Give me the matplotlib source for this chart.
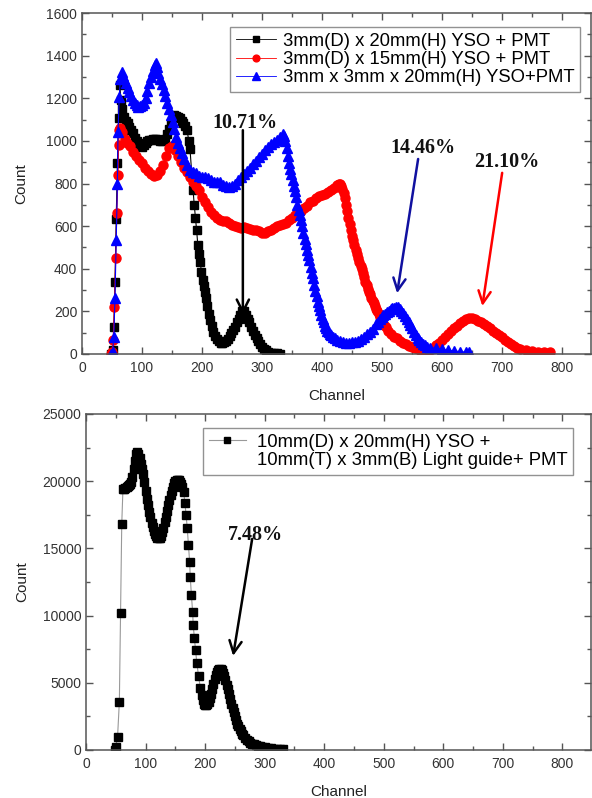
import numpy as np
import matplotlib.pyplot as plt
from matplotlib.lines import Line2D
from matplotlib.ticker import MultipleLocator

# Datos del panel superior (canal, cuentas)
ch_black = [48, 51, 53, 55, 57, 59, 61, 63, 65, 67, 70, 73, 76, 79, 82, 85, 88, 91, 94, 97, 100, 103,
            106, 109, 112, 115, 118, 121, 124, 127, 130, 133, 136, 139, 142, 145, 148, 151, 154, 157,
            160, 163, 166, 169, 172, 175, 178, 180, 183, 185, 187, 189, 191, 193, 195, 197, 199, 201,
            203, 205, 207, 209, 211, 213, 216, 219, 222, 225, 228, 231, 234, 237, 240, 243, 246, 249,
            252, 255, 258, 261, 264, 267, 270, 273, 276, 279, 282, 285, 288, 291, 294, 297, 300, 303,
            306, 310, 315, 320, 325, 330]
cnt_black = [0, 20, 125, 340, 635, 895, 1105, 1260, 1190, 1150, 1110, 1095, 1085, 1065, 1050, 1035,
             1015, 1000, 985, 975, 970, 980, 990, 1000, 1005, 1005, 1010, 1010, 1010, 1005, 1000, 1000,
             1005, 1010, 1030, 1055, 1085, 1110, 1120, 1115, 1110, 1105, 1095, 1085, 1070, 1050, 1000,
             960, 840, 770, 700, 640, 580, 510, 470, 430, 385, 345, 320, 290, 265, 225, 190, 160, 130,
             105, 85, 70, 60, 53, 52, 55, 60, 70, 85, 98, 113, 128, 148, 165, 185, 200, 200, 185, 165,
             148, 128, 108, 90, 75, 60, 45, 35, 25, 17, 10, 6, 4, 3, 2]

ch_red = [48, 50, 52, 54, 56, 58, 60, 61, 62, 64, 67, 71, 75, 80, 85, 90, 95, 100, 105, 110, 115, 120,
          125, 130, 135, 140, 145, 150, 155, 160, 165, 170, 175, 180, 185, 190, 195, 200, 205, 210, 215,
          220, 225, 230, 235, 240, 245, 250, 255, 260, 265, 270, 275, 280, 285, 290, 295, 300, 305, 310,
          315, 320, 325, 330, 335, 340, 345, 350, 355, 360, 365, 370, 375, 380, 385, 390, 395, 400, 405,
          410, 415, 420, 425, 428, 430, 432, 434, 436, 438, 440, 442, 444, 446, 448, 450, 452, 454, 456,
          458, 460, 462, 464, 466, 468, 470, 472, 474, 476, 478, 480, 482, 484, 486, 488, 490, 492, 494,
          496, 498, 500, 503, 506, 510, 515, 520, 525, 530, 535, 540, 545, 550, 555, 560, 565, 570, 575,
          580, 585, 590, 595, 600, 605, 610, 615, 620, 625, 630, 635, 640, 645, 650, 655, 660, 665, 670,
          675, 680, 685, 690, 695, 700, 705, 710, 715, 720, 725, 730, 740, 750, 760, 770, 780]
cnt_red = [0, 10, 66, 220, 450, 660, 840, 980, 1050, 1060, 1040, 1010, 990, 975, 950, 930, 910, 895,
           875, 860, 845, 835, 840, 860, 885, 930, 965, 975, 955, 930, 900, 875, 855, 830, 805, 790, 770,
           735, 715, 690, 665, 650, 640, 630, 625, 625, 615, 605, 600, 595, 590, 595, 590, 585, 580, 580,
           575, 570, 570, 575, 580, 590, 600, 605, 610, 615, 630, 640, 650, 655, 670, 685, 695, 715, 720,
           730, 740, 745, 750, 760, 770, 780, 795, 800, 798, 790, 775, 755, 730, 700, 670, 640, 610, 580,
           555, 535, 510, 490, 470, 450, 432, 415, 398, 380, 360, 340, 322, 305, 292, 280, 265, 250, 238,
           225, 212, 200, 188, 175, 162, 150, 138, 126, 110, 95, 82, 75, 62, 52, 45, 38, 33, 28, 22, 15,
           10, 10, 18, 28, 40, 52, 65, 78, 95, 108, 120, 132, 145, 155, 165, 168, 168, 162, 155, 150, 140,
           130, 122, 110, 98, 88, 80, 68, 55, 45, 38, 30, 25, 18, 14, 11, 9, 8]

ch_blue = [48, 51, 53, 55, 57, 59, 60, 62, 64, 66, 68, 70, 73, 76, 79, 82, 85, 88, 91, 94, 97, 100, 103,
           106, 109, 112, 115, 118, 121, 123, 125, 127, 130, 133, 136, 139, 142, 145, 148, 151, 154, 157,
           160, 163, 166, 170, 175, 180, 185, 190, 195, 200, 205, 210, 215, 220, 225, 230, 235, 240, 245,
           250, 255, 260, 265, 270, 275, 280, 285, 290, 295, 300, 305, 310, 315, 320, 325, 330, 335, 337,
           339, 341, 343, 345, 347, 349, 351, 353, 355, 357, 359, 361, 363, 365, 367, 369, 371, 373, 375,
           377, 379, 381, 383, 385, 387, 389, 391, 393, 395, 397, 399, 401, 403, 405, 407, 409, 411, 413,
           415, 418, 421, 425, 430, 435, 440, 445, 450, 455, 460, 465, 470, 475, 480, 485, 490, 493, 496,
           499, 502, 505, 508, 511, 514, 517, 520, 523, 526, 529, 532, 535, 538, 541, 544, 547, 550, 553,
           556, 559, 562, 565, 568, 571, 575, 580, 590, 600, 610, 620, 630, 640, 645]
cnt_blue = [0, 10, 80, 265, 535, 800, 1040, 1205, 1290, 1325, 1305, 1290, 1270, 1250, 1228, 1210, 1190,
            1178, 1168, 1160, 1162, 1170, 1180, 1200, 1235, 1270, 1300, 1330, 1355, 1365, 1345, 1320,
            1290, 1265, 1240, 1210, 1180, 1150, 1120, 1090, 1055, 1020, 990, 965, 945, 915, 885, 865, 855,
            850, 835, 830, 830, 825, 815, 805, 805, 805, 795, 790, 785, 790, 800, 815, 830, 845, 860, 875,
            890, 905, 925, 940, 955, 970, 985, 995, 1005, 1020, 1030, 1025, 1000, 965, 930, 895, 870, 845,
            815, 790, 765, 735, 700, 675, 650, 630, 600, 570, 540, 515, 490, 465, 440, 410, 380, 355, 325,
            295, 270, 245, 225, 205, 185, 165, 148, 132, 120, 110, 102, 95, 88, 82, 76, 68, 60, 55, 52, 52,
            54, 58, 62, 70, 80, 92, 105, 118, 140, 152, 163, 172, 182, 190, 197, 203, 209, 214, 218, 221,
            219, 212, 202, 192, 180, 165, 150, 135, 120, 105, 90, 76, 64, 55, 47, 41, 35, 30, 27, 22, 18,
            14, 11, 9, 8]

# Datos del panel inferior
ch_big = [48, 50, 53, 56, 58, 60, 62, 64, 66, 68, 70, 72, 74, 76, 78, 80, 82, 84, 86, 88, 90, 92, 94,
          96, 98, 100, 102, 104, 106, 108, 110, 112, 114, 116, 118, 120, 122, 124, 126, 128, 130, 132,
          134, 136, 138, 140, 142, 144, 146, 148, 150, 152, 154, 156, 158, 160, 162, 164, 166, 168, 170,
          172, 174, 175, 177, 179, 180, 182, 184, 186, 189, 192, 194, 196, 198, 200, 202, 204, 206, 208,
          210, 212, 214, 216, 218, 220, 222, 224, 226, 228, 230, 232, 234, 236, 238, 240, 242, 244, 246,
          248, 250, 252, 254, 256, 258, 260, 262, 264, 267, 270, 273, 276, 279, 282, 285, 288, 292, 296,
          300, 305, 310, 315, 320, 325, 330]
cnt_big = [0, 250, 1000, 3600, 10200, 16800, 19400, 19450, 19500, 19600, 19650, 19700, 19800, 19900,
           20300, 20900, 21500, 22000, 22200, 22000, 21700, 21300, 20900, 20500, 19900, 19300, 18700,
           18200, 17700, 17300, 16900, 16600, 16300, 16100, 15900, 15800, 15750, 15800, 15950, 16200,
           16550, 16950, 17350, 17800, 18200, 18600, 18950, 19300, 19600, 19850, 20000, 20100, 20100,
           20050, 19950, 19800, 19600, 19200, 18400, 17500, 16500, 15250, 14000, 12900, 11500, 10300,
           9300, 8300, 7400, 6500, 5500, 4600, 4100, 3700, 3450, 3350, 3350, 3400, 3600, 3900, 4200,
           4550, 4900, 5250, 5550, 5800, 5950, 6050, 6050, 5950, 5750, 5500, 5200, 4850, 4500, 4150,
           3800, 3450, 3100, 2800, 2500, 2200, 1950, 1750, 1550, 1380, 1220, 1080, 900, 740, 630, 550,
           480, 420, 370, 330, 280, 240, 200, 160, 130, 100, 80, 60, 50]

labels_top = ['3mm(D) x 20mm(H) YSO + PMT', '3mm(D) x 15mm(H) YSO + PMT', '3mm x 3mm x 20mm(H) YSO+PMT']
labels_bottom = ['10mm(D) x 20mm(H) YSO +', '10mm(T) x 3mm(B) Light guide+ PMT']

plt.rcParams['font.family'] = ['Liberation Sans', 'DejaVu Sans']

fig = plt.figure(figsize=(5.92, 7.98), dpi=100)
ax1 = fig.add_axes([0.1385, 0.5564, 0.8598, 0.4273])
ax2 = fig.add_axes([0.1453, 0.0602, 0.853, 0.4211])


def estilo(ax, ymax, ymajor, yminor):
    # ejes estilo Origin: ticks hacia dentro en los cuatro lados
    ax.set_xlim(0, 848)
    ax.set_ylim(0, ymax)
    ax.xaxis.set_major_locator(MultipleLocator(100))
    ax.xaxis.set_minor_locator(MultipleLocator(50))
    ax.yaxis.set_major_locator(MultipleLocator(ymajor))
    ax.yaxis.set_minor_locator(MultipleLocator(yminor))
    ax.tick_params(which='both', direction='in', top=True, right=True, colors='#555555',
                   labelcolor='#333333', labelsize=10)
    ax.tick_params(which='major', length=5, width=1)
    ax.tick_params(which='minor', length=3, width=1)
    ax.tick_params(axis='x', pad=5)
    for s in ax.spines.values():
        s.set_color('#555555')
        s.set_linewidth(1.1)
    ax.set_xlabel('Channel', fontsize=11, color='#222222', labelpad=10)
    ax.set_ylabel('Count', fontsize=11, color='#222222')


# panel superior
ax1.plot(ch_black, cnt_black, color='black', lw=0.8, marker='s', ms=5.5, label=labels_top[0])
ax1.plot(ch_red, cnt_red, color='red', lw=0.8, marker='o', ms=6.5, label=labels_top[1])
ax1.plot(ch_blue, cnt_blue, color='blue', lw=0.8, marker='^', ms=7, label=labels_top[2])
estilo(ax1, 1600, 200, 100)
ax1.yaxis.set_label_coords(-0.106, 0.5)

leg1 = ax1.legend(loc='upper left', bbox_to_anchor=(0.291, 0.959), borderaxespad=0, fontsize=13.3,
                  labelspacing=0.08, handlelength=2.2, handletextpad=0.35, borderpad=0.3,
                  fancybox=False, edgecolor='#777777', markerscale=0.75)
leg1.get_frame().set_linewidth(1)
for h in leg1.get_lines():
    h.set_linewidth(0.6)

serif = dict(family='Liberation Serif', fontweight='bold', fontsize=14.5, ha='center', va='center')
ax1.text(272, 1084, '10.71%', color='#111111', **serif)
ax1.text(568, 967, '14.46%', color='#111111', **serif)
ax1.text(708, 901, '21.10%', color='#111111', **serif)
flecha = dict(arrowstyle='->', lw=1.8, mutation_scale=22, shrinkA=0, shrinkB=0)
ax1.annotate('', xy=(268, 185), xytext=(268, 1050), arrowprops=dict(color='black', **flecha))
ax1.annotate('', xy=(525, 285), xytext=(560, 915), arrowprops=dict(color='#1010a0', **flecha))
ax1.annotate('', xy=(667, 225), xytext=(700, 850), arrowprops=dict(color='red', **flecha))

# panel inferior
ax2.plot(ch_big, cnt_big, color='#999999', lw=0.8, marker='s', ms=5.5, mfc='black', mec='black')
estilo(ax2, 25000, 5000, 2500)
ax2.yaxis.set_label_coords(-0.112, 0.5)

h1 = Line2D([], [], color='#999999', lw=0.8, marker='s', ms=4.5, mfc='black', mec='black')
h2 = Line2D([], [], color='none')
leg2 = ax2.legend([h1, h2], labels_bottom, loc='upper left', bbox_to_anchor=(0.232, 0.958),
                  borderaxespad=0, fontsize=13.3, labelspacing=0.1, handlelength=2.0, handletextpad=0.6,
                  borderpad=0.3, fancybox=False, edgecolor='#777777')
leg2.get_frame().set_linewidth(1)

ax2.text(284, 16000, '7.48%', color='#111111', **serif)
ax2.annotate('', xy=(247, 7000), xytext=(279, 15700), arrowprops=dict(color='black', **flecha))

fig.savefig('out.png', dpi=100)
